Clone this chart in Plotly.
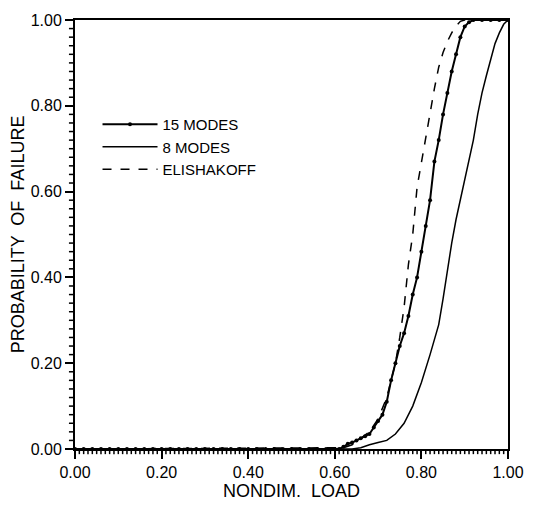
import plotly.graph_objects as go

# ---- data ----
x15 = [0.00, 0.02, 0.04, 0.06, 0.08, 0.10, 0.12, 0.14, 0.16, 0.18, 0.20, 0.22, 0.24,
       0.26, 0.28, 0.30, 0.32, 0.34, 0.36, 0.38, 0.40, 0.42, 0.44, 0.46, 0.48,
       0.50, 0.52, 0.54, 0.56, 0.58, 0.60, 0.61, 0.62, 0.63, 0.64, 0.65,
       0.66, 0.67, 0.68, 0.69, 0.70, 0.71, 0.72, 0.73, 0.74, 0.75, 0.76, 0.77,
       0.78, 0.79, 0.80, 0.81, 0.82, 0.83, 0.84, 0.85, 0.86, 0.87, 0.88, 0.89,
       0.90, 0.91, 0.92, 0.94, 0.96, 0.98, 1.00]
y15 = [0.0, 0.0, 0.0, 0.0, 0.0, 0.0, 0.0, 0.0, 0.0, 0.0, 0.0, 0.0, 0.0,
       0.0, 0.0, 0.0, 0.0, 0.0, 0.0, 0.0, 0.0, 0.0, 0.0, 0.0, 0.0,
       0.0, 0.0, 0.0, 0.0, 0.0, 0.0, 0.0, 0.005, 0.012, 0.015, 0.02,
       0.025, 0.03, 0.035, 0.05, 0.065, 0.08, 0.11, 0.16, 0.20, 0.24, 0.27, 0.31,
       0.36, 0.40, 0.46, 0.52, 0.58, 0.67, 0.72, 0.78, 0.83, 0.88, 0.92, 0.96,
       0.985, 0.995, 1.0, 1.0, 1.0, 1.0, 1.0]

x8 = [0.00, 0.64, 0.66, 0.68, 0.70, 0.72, 0.74, 0.76, 0.78, 0.80, 0.82, 0.84, 0.85,
      0.86, 0.87, 0.88, 0.89, 0.90, 0.91, 0.92, 0.93, 0.94, 0.95, 0.96, 0.97,
      0.98, 0.99, 1.00]
y8 = [0.0, 0.0, 0.003, 0.01, 0.015, 0.02, 0.035, 0.06, 0.10, 0.155, 0.22, 0.29, 0.35,
      0.42, 0.48, 0.535, 0.58, 0.625, 0.67, 0.72, 0.78, 0.83, 0.87, 0.91, 0.945,
      0.97, 0.99, 1.0]

xe = [0.00, 0.62, 0.64, 0.66, 0.68, 0.70, 0.72, 0.73, 0.74, 0.75, 0.76, 0.77, 0.78,
      0.79, 0.80, 0.81, 0.82, 0.83, 0.84, 0.85, 0.86, 0.87, 0.88, 0.89, 0.90, 1.00]
ye = [0.0, 0.003, 0.01, 0.025, 0.04, 0.07, 0.12, 0.16, 0.20, 0.26, 0.33, 0.43, 0.50,
      0.61, 0.67, 0.73, 0.79, 0.84, 0.89, 0.924, 0.95, 0.97, 0.986, 0.997, 1.0, 1.0]

names = ["15 MODES", "8 MODES", "ELISHAKOFF"]

# fine tick positions as fractions of the axis length (axis decoration, not data)
x_minor_frac = [i / 100 for i in range(101) if i % 20]
y_minor_frac = [i / 50 for i in range(51) if i % 10]

FONT = "Liberation Sans, Arial, sans-serif"

fig = go.Figure()
fig.add_trace(go.Scatter(x=x15, y=y15, name=names[0], mode="lines+markers",
                         line=dict(color="black", width=2),
                         marker=dict(color="black", size=4)))
fig.add_trace(go.Scatter(x=x8, y=y8, name=names[1], mode="lines",
                         line=dict(color="black", width=1.5)))
fig.add_trace(go.Scatter(x=xe, y=ye, name=names[2], mode="lines",
                         line=dict(color="black", width=1.5, dash="dash")))

axis_common = dict(range=[0, 1], showgrid=False, zeroline=False,
                   showline=True, linecolor="black", linewidth=2, mirror=True,
                   ticks="outside", ticklen=8, tickwidth=2, tickcolor="black",
                   tick0=0, dtick=0.2, tickformat=".2f",
                   tickfont=dict(family=FONT, size=16, color="black"))

# small tick marks drawn in paper coordinates (not clipped by the plot area)
shapes = []
for f in x_minor_frac:
    shapes.append(dict(type="line", xref="paper", yref="paper", x0=f, x1=f,
                       y0=0, y1=-0.012, line=dict(color="black", width=1.5)))
for f in y_minor_frac:
    shapes.append(dict(type="line", xref="paper", yref="paper", x0=0, x1=-0.014,
                       y0=f, y1=f, line=dict(color="black", width=1.5)))

fig.update_layout(
    width=538, height=510,
    margin=dict(l=75, r=30, t=13, b=52),
    paper_bgcolor="white", plot_bgcolor="white",
    showlegend=True,
    xaxis=dict(**axis_common,
               title=dict(text="NONDIM.  LOAD", font=dict(family=FONT, size=18, color="black"),
                          standoff=4)),
    yaxis=dict(**axis_common),
    shapes=shapes,
    legend=dict(x=0.052, y=0.795, xanchor="left", yanchor="top",
                bgcolor="rgba(0,0,0,0)", itemwidth=55, tracegroupgap=0,
                font=dict(family=FONT, size=15, color="black")),
)

fig.add_annotation(text="PROBABILITY  OF  FAILURE", textangle=-90,
                   xref="paper", yref="paper", x=-0.132, y=0.5,
                   xanchor="center", yanchor="middle", showarrow=False,
                   font=dict(family=FONT, size=18, color="black"))

fig.write_html("out.html")
